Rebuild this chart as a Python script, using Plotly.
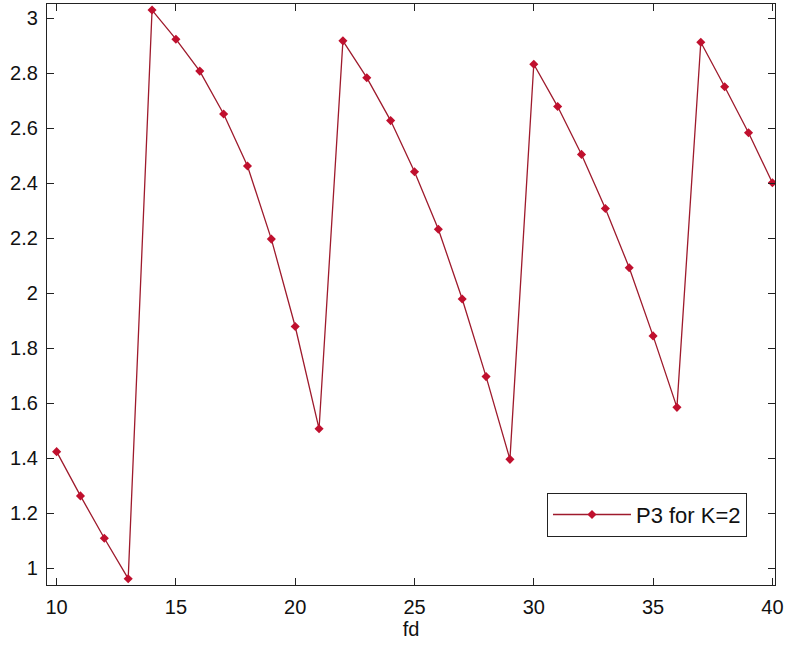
import plotly.graph_objects as go

fd = list(range(10, 41))
p3 = [1.424, 1.263, 1.109, 0.962, 3.030, 2.924, 2.808, 2.652, 2.463, 2.197,
      1.879, 1.507, 2.918, 2.784, 2.628, 2.442, 2.233, 1.979, 1.697, 1.396,
      2.833, 2.679, 2.505, 2.308, 2.093, 1.845, 1.585, 2.913, 2.751, 2.584,
      2.402]
series_name = "P3 for K=2"
x_ticks = [10, 15, 20, 25, 30, 35, 40]
y_ticks = [1, 1.2, 1.4, 1.6, 1.8, 2, 2.2, 2.4, 2.6, 2.8, 3]
y_tick_text = ["1", "1.2", "1.4", "1.6", "1.8", "2", "2.2", "2.4", "2.6", "2.8", "3"]

fig = go.Figure()
fig.add_trace(go.Scatter(
    x=fd, y=p3, mode="lines+markers", name=series_name,
    line=dict(color="#9e1a2c", width=1.3),
    marker=dict(symbol="diamond", size=7, color="#c0102e"),
))

font = dict(family="Liberation Sans, Arial, sans-serif", size=20, color="#111")
axis_common = dict(
    showline=True, linecolor="#222", linewidth=1.2, mirror="allticks",
    ticks="inside", ticklen=7, tickcolor="#222", tickwidth=1,
    showgrid=False, zeroline=False, tickfont=font, automargin=False,
)
fig.update_layout(
    width=785, height=647,
    margin=dict(l=47, r=10, t=4, b=62),
    paper_bgcolor="white", plot_bgcolor="white",
    showlegend=True,
    legend=dict(
        x=0.6868, y=0.121, xanchor="left", yanchor="middle",
        bgcolor="white", bordercolor="#222", borderwidth=1,
        font=dict(family="Liberation Sans, Arial, sans-serif", size=22, color="#111"),
        itemwidth=78,
    ),
    xaxis=dict(range=[9.597, 40.11], tickvals=x_ticks, ticklabelstandoff=4,
               ticklabeloverflow="allow",
               title=dict(text="fd", font=font, standoff=2), **axis_common),
    yaxis=dict(range=[0.939, 3.052], tickvals=y_ticks, ticktext=y_tick_text,
               ticklabelstandoff=4, **axis_common),
)
fig.write_html("out.html")
